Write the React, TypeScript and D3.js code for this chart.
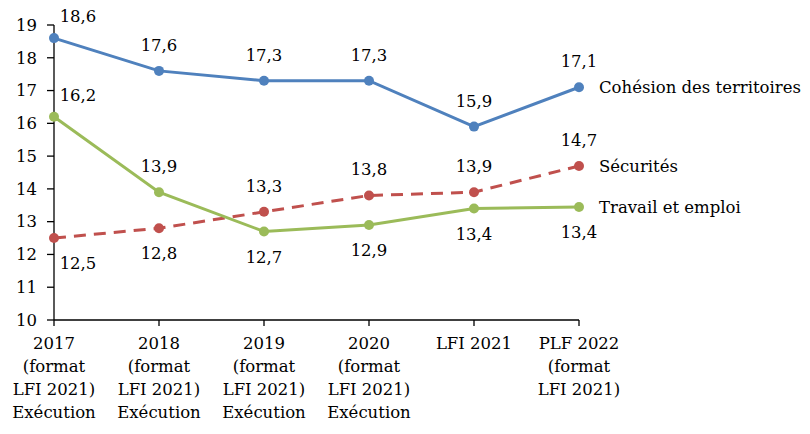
import React from "react";
import * as d3 from "d3";

const categories = [
  ["2017", "(format", "LFI 2021)", "Exécution"],
  ["2018", "(format", "LFI 2021)", "Exécution"],
  ["2019", "(format", "LFI 2021)", "Exécution"],
  ["2020", "(format", "LFI 2021)", "Exécution"],
  ["LFI 2021"],
  ["PLF 2022", "(format", "LFI 2021)"],
];
const cohesion = [18.6, 17.6, 17.3, 17.3, 15.9, 17.1];
const securites = [12.5, 12.8, 13.3, 13.8, 13.9, 14.7];
const travail = [16.2, 13.9, 12.7, 12.9, 13.4, 13.45];
const travailLabels = ["16,2", "13,9", "12,7", "12,9", "13,4", "13,4"];
const yTicks = [10, 11, 12, 13, 14, 15, 16, 17, 18, 19];

// label placement: "a" above, "b" below, "ar" above-right, "br" below-right
const cohesionPos = ["ar", "a", "a", "a", "a", "a"];
const securitesPos = ["br", "b", "a", "a", "a", "a"];
const travailPos = ["ar", "a", "b", "b", "b", "b"];

const FONT = "DejaVu Serif";
const FS = 16.5;

const fmt = (v: number) => v.toFixed(1).replace(".", ",");

export default function App() {
  const x = d3.scaleLinear().domain([0, 5]).range([54, 579]);
  const y = d3.scaleLinear().domain([10, 19]).range([320, 25]);
  const line = d3
    .line<number>()
    .x((_, i) => x(i))
    .y((d) => y(d));

  const series = [
    { name: "Cohésion des territoires", data: cohesion, labels: cohesion.map(fmt), color: "#4F81BD", dash: undefined, pos: cohesionPos },
    { name: "Sécurités", data: securites, labels: securites.map(fmt), color: "#C0504D", dash: "12 8", pos: securitesPos },
    { name: "Travail et emploi", data: travail, labels: travailLabels, color: "#9BBB59", dash: undefined, pos: travailPos },
  ];

  const labelXY = (i: number, v: number, p: string) => {
    const px = x(i);
    const py = y(v);
    if (p === "a") return [px, py - 20];
    if (p === "b") return [px, py + 31];
    if (p === "ar") return [px + 24, py - 16];
    return [px + 24, py + 31];
  };

  return (
    <svg width={810} height={434} style={{ position: "absolute", left: 0, top: 0 }}>
      <rect width={810} height={434} fill="#fff" />
      <g fontFamily={FONT} fontSize={FS} fill="#000">
        {/* y axis */}
        <line x1={54} x2={54} y1={y(19)} y2={y(10)} stroke="#000" strokeWidth={1.3} />
        {yTicks.map((t) => (
          <g key={t}>
            <line x1={47} x2={54} y1={y(t)} y2={y(t)} stroke="#000" strokeWidth={1.3} />
            <text x={37} y={y(t)} dy="0.35em" textAnchor="end">
              {t}
            </text>
          </g>
        ))}
        {/* x axis */}
        <line x1={54} x2={x(5)} y1={y(10)} y2={y(10)} stroke="#000" strokeWidth={1.3} />
        {categories.map((c, i) => (
          <g key={i}>
            <line x1={x(i)} x2={x(i)} y1={y(10)} y2={y(10) + 6} stroke="#000" strokeWidth={1.3} />
            {c.map((s, j) => (
              <text key={j} x={x(i)} y={343 + j * 23} dy="0.35em" textAnchor="middle">
                {s}
              </text>
            ))}
          </g>
        ))}
        {series.map((s) => (
          <g key={s.name}>
            <path d={line(s.data) || ""} fill="none" stroke={s.color} strokeWidth={3} strokeDasharray={s.dash} />
            {s.data.map((v, i) => (
              <circle key={i} cx={x(i)} cy={y(v)} r={5} fill={s.color} />
            ))}
            {s.data.map((v, i) => {
              const [lx, ly] = labelXY(i, v, s.pos[i]);
              return (
                <text key={"l" + i} x={lx} y={ly} textAnchor="middle">
                  {s.labels[i]}
                </text>
              );
            })}
            <text x={599} y={y(s.data[5])} dy="0.35em">
              {s.name}
            </text>
          </g>
        ))}
      </g>
    </svg>
  );
}
